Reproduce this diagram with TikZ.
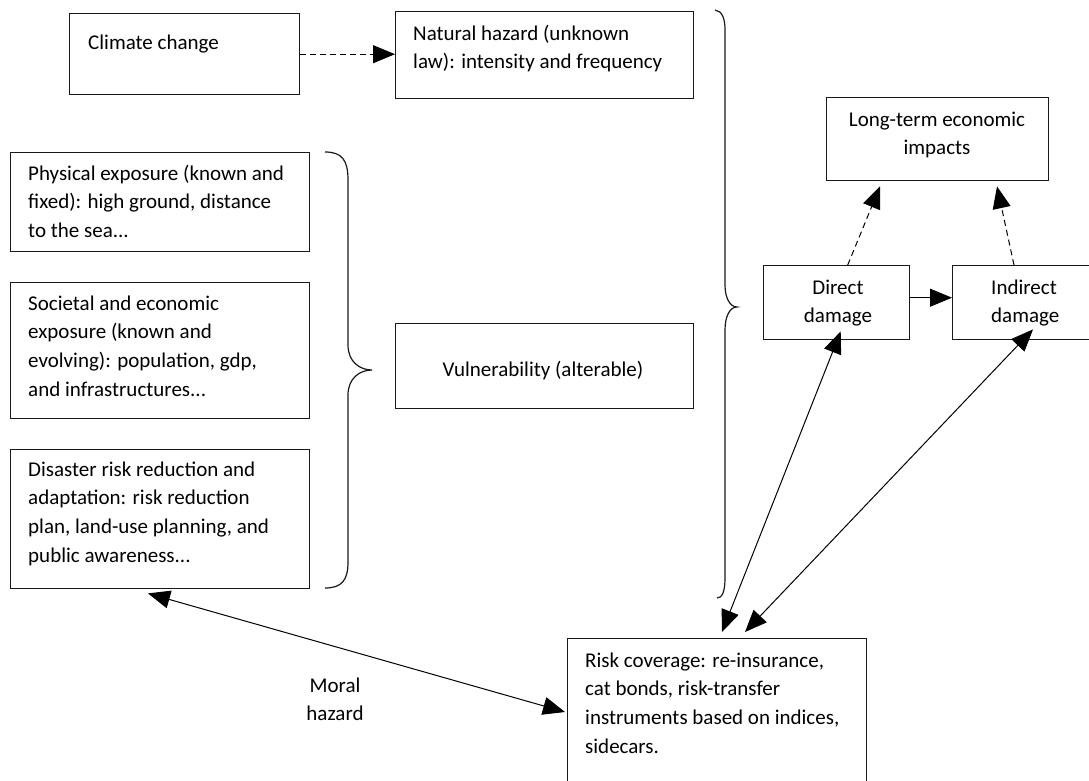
\documentclass[tikz,border=0pt]{standalone}
\usepackage{fontspec}
\setmainfont{Carlito}
\usetikzlibrary{arrows.meta,calc}
\newcommand{\mainfs}{\fontsize{21}{28.8}\selectfont}
\begin{document}
\begin{tikzpicture}[x=1pt,y=-1pt,
  box/.style={draw=black!90, line width=1.4pt, rectangle, inner sep=0, anchor=north west},
  txt/.style={inner sep=0, font=\mainfs, text=black},
  conn/.style={draw=black, line width=1pt},
  tip/.style={-{Triangle[length=22pt,width=18pt]}},
  dtip/.style={{Triangle[length=22pt,width=18pt]}-{Triangle[length=22pt,width=18pt]}},
  dashline/.style={dash pattern=on 6pt off 4pt},
  brace/.style={draw=black!90, line width=1.2pt}]
\useasboundingbox (0,0) rectangle (1089,781);
\clip (0,0) rectangle (1089,781);
\fill[white] (0,0) rectangle (1089,781);

% boxes
\node[box, minimum width=230, minimum height=81] (cc) at (69,13) {};
\node[box, minimum width=298, minimum height=87] (nh) at (395,11) {};
\node[box, minimum width=222, minimum height=83] (lt) at (826,97) {};
\node[box, minimum width=299, minimum height=99] (pe) at (10,152) {};
\node[box, minimum width=299, minimum height=136] (se) at (10,282) {};
\node[box, minimum width=299, minimum height=139] (dr) at (10,449) {};
\node[box, minimum width=298, minimum height=85] (vu) at (395,323) {};
\node[box, minimum width=146, minimum height=74] (dd) at (763,265) {};
\node[box, minimum width=150, minimum height=74] (id) at (952,265) {};
\node[box, minimum width=299, minimum height=170] (rc) at (567,638) {};

% texts
\node[txt, anchor=north west, align=left] (cct) at (88,28.8) {\strut Climate change};
\node[txt, anchor=north west, align=left] (nht) at (413,19.8) {\strut Natural hazard (unknown\\law): intensity and frequency};
\node[txt, anchor=north, align=center] (ltt) at (937,105.8) {\strut Long-term economic\\impacts};
\node[txt, anchor=north west, align=left] (pet) at (28,159.8) {\strut Physical exposure (known and\\fixed): high ground, distance\\to the sea...};
\node[txt, anchor=north west, align=left] (set) at (28,289.8) {\strut Societal and economic\\exposure (known and\\evolving): population, gdp,\\and infrastructures...};
\node[txt, anchor=north west, align=left] (drt) at (28,455.8) {\strut Disaster risk reduction and\\adaptation: risk reduction\\plan, land-use planning, and\\public awareness...};
\node[txt, anchor=base] (vut) at (543,376) {Vulnerability (alterable)};
\node[txt, anchor=north, align=center] (ddt) at (838,273.8) {\strut Direct\\damage};
\node[txt, anchor=north west, align=left] (idt) at (991,273.8) {\strut Indirect\\damage};
\node[txt, anchor=north west, align=left] (rct) at (585,646.8) {\strut Risk coverage: re-insurance,\\cat bonds, risk-transfer\\instruments based on indices,\\sidecars.};
\node[txt, anchor=north, align=center] (mht) at (335,671.8) {\strut Moral\\hazard};

% braces
\draw[brace] (325,152) .. controls (342,152) and (348,160) .. (348,180) -- (348,345)
  .. controls (348,362) and (360,370) .. (372,370)
  .. controls (360,370) and (348,378) .. (348,395) -- (348,562)
  .. controls (348,580) and (342,588) .. (325,588);
\draw[brace] (715,10) .. controls (722,11) and (725,18) .. (725,30) -- (725,285)
  .. controls (725,298) and (730,307) .. (737,307)
  .. controls (730,307) and (725,316) .. (725,330) -- (725,578)
  .. controls (725,592) and (722,598) .. (717,598);

% connectors
\draw[conn, dashline, tip] (cc.east) -- (cc.east -| nh.west);
\draw[conn, dashline, tip] ([xshift=11]dd.north) -- ([shift={(54,5)}]lt.south west);
\draw[conn, dashline, tip] ([xshift=62]id.north west) -- ([shift={(171,5)}]lt.south west);
\draw[conn, tip] ([yshift=5]dd.east) -- ([yshift=5]dd.east -| id.west);
\draw[conn, dtip] ([shift={(4,-9)}]dd.south) -- ([shift={(155,-6)}]rc.north west);
\draw[conn, dtip] ([shift={(81,-11)}]id.south west) -- ([shift={(178,-6)}]rc.north west);
\draw[conn, dtip] ([shift={(138,4)}]dr.south west) -- ([shift={(-2,74)}]rc.north west);
\end{tikzpicture}
\end{document}
